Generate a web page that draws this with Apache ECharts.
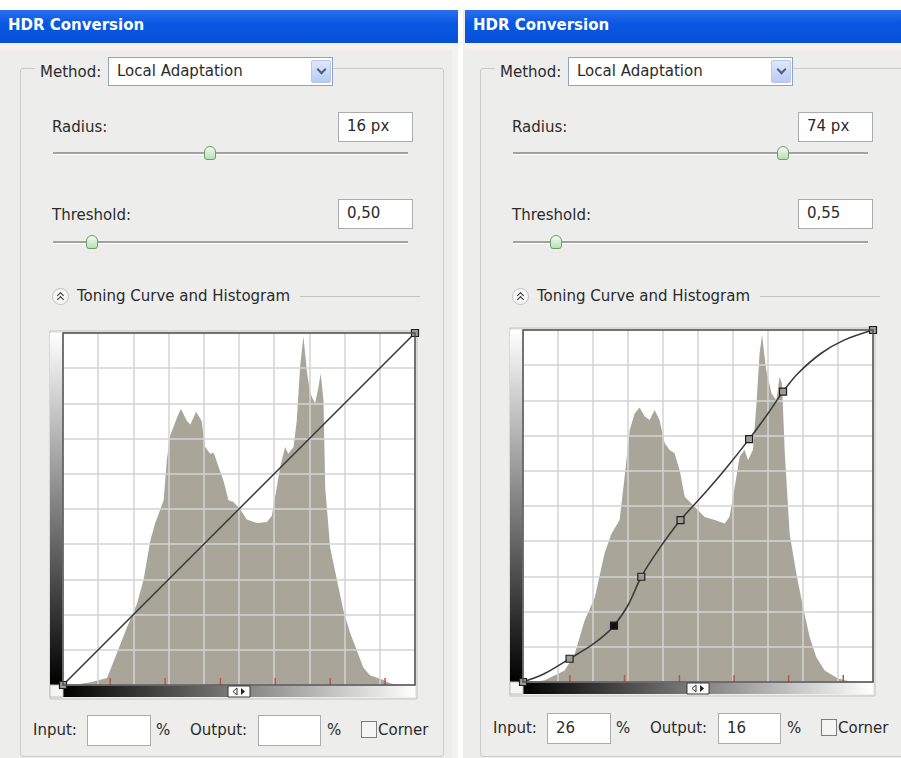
<!DOCTYPE html>
<html>
<head>
<meta charset="utf-8">
<script src="https://cdn.jsdelivr.net/npm/echarts@6/dist/echarts.min.js"></script>
<style>
  body { margin: 0; width: 901px; height: 758px; background: #fff; position: relative; overflow: hidden;
         font-family: "DejaVu Sans", sans-serif; font-size: 15px; color: #2b2b2b; }
  .abs { position: absolute; }
  .win { position: absolute; top: 10px; height: 748px; background: #ededeb; }
  .title { position: absolute; top: 10px; height: 33px; line-height: 31px; color: #fff; font-weight: bold;
           background: linear-gradient(#2b6ff0, #0a58e2 40%, #0650d8); padding-left: 8px; box-sizing: border-box; }
  .band { position: absolute; height: 7px; background: #f6f0f0; }
  .group { position: absolute; border: 1px solid #cbcbcb; border-radius: 3px; }
  .lbl { position: absolute; height: 20px; line-height: 20px; white-space: nowrap; background: #ededeb; }
  .box { position: absolute; background: #fff; border: 1px solid #a9adb1; box-sizing: border-box;
         padding-left: 8px; line-height: 27px; }
  .drop { position: absolute; background: #fff; border: 1px solid #8fa4c4; box-sizing: border-box;
          padding-left: 8px; line-height: 26px; }
  .arrow { position: absolute; width: 20px; height: 23px; border: 1px solid #b7c7ee; border-radius: 2px;
           background: linear-gradient(#dfe7fb, #b9cbf3); box-sizing: border-box; }
  .arrow:after { content: ""; position: absolute; left: 6px; top: 5px; width: 5px; height: 5px;
                 border-right: 2px solid #4a5f8c; border-bottom: 2px solid #4a5f8c; transform: rotate(45deg); }
  .track { position: absolute; height: 2px; background: #a2a2a2; border-bottom: 1px solid #fff; }
  .thumb { position: absolute; width: 12px; height: 14px; border: 1px solid #6d9d6d; border-radius: 6px 6px 3px 3px;
           background: linear-gradient(#f2fbf2, #b7e0b7); box-sizing: border-box; }
  .sep { position: absolute; height: 1px; background: #c4c4c4; }
  .icon { position: absolute; width: 17px; height: 17px; border-radius: 50%; border: 1px solid #c2c2c2;
          background: #f6f6f6; box-sizing: border-box; }
  .icon:before, .icon:after { content: ""; position: absolute; left: 5px; width: 4px; height: 4px;
          border-left: 1.5px solid #333; border-top: 1.5px solid #333; transform: rotate(45deg); }
  .icon:before { top: 4px; }
  .icon:after { top: 8px; }
  .check { position: absolute; width: 16px; height: 17px; border: 1px solid #7d7d7d; background: #f5f5f5; box-sizing: border-box; }
  .plot { position: absolute; width: 380px; height: 380px; }
</style>
</head>
<body>
<script>
// histogram outlines, [input %, height %]
const leftHistogram = [
  [0, 0], [3, 0], [7.8, 0.8], [12.5, 2], [15.3, 9], [18.2, 16.5], [21, 23], [22.9, 30], [24.8, 41],
  [26.2, 46], [28.6, 52.5], [29.5, 64], [30.5, 71], [32.4, 76], [33.5, 78.5], [35.2, 75], [36.2, 74],
  [37.8, 77.6], [39.4, 75], [40.4, 67.6], [41.8, 65.7], [42.8, 66], [44.2, 62], [45.6, 58], [47, 52.5],
  [48.4, 52], [50.3, 50], [52.2, 47], [55.1, 46], [57.9, 46.3], [59.3, 48], [60.7, 56], [61.7, 62],
  [63.1, 67.6], [64, 65.7], [65.5, 67.6], [66.4, 75], [67.4, 91], [68.3, 99], [69.3, 89], [70.2, 83],
  [71.6, 80], [72.6, 84.7], [73.2, 88.5], [74, 81], [74.5, 56], [75.9, 39], [77.8, 30], [79.7, 21],
  [81.6, 14.7], [83.4, 10], [85.3, 5], [87.2, 2.8], [91, 1.4], [92.9, 0.5], [95, 0], [100, 0]
];
const rightHistogram = [
  [0, 0], [3, 0], [6.2, 0.5], [11.9, 3.3], [14.8, 8], [17.6, 17.5], [20.5, 24], [23.3, 36.5], [25.2, 42],
  [27.6, 46], [29, 58], [30.5, 71.6], [31.9, 76.3], [33.3, 78], [34.8, 75.4], [36.2, 74.4], [37.6, 77.3],
  [39, 74.4], [40.5, 67.8], [41.9, 65.9], [43.3, 65], [44.8, 60], [46.2, 52.6], [48.1, 50.7], [50, 48.8],
  [51.9, 46.9], [54.8, 46], [57.6, 45], [59, 46.9], [60.5, 55.5], [61.9, 64], [63.3, 66], [64.3, 63],
  [65.7, 66], [66.7, 79], [67.6, 93.4], [68.3, 98.6], [69.5, 88.6], [71, 82], [72.4, 80], [73.3, 86.7],
  [74, 84.8], [74.8, 65], [76.2, 42], [78.1, 30.8], [80, 21.3], [81.9, 12.8], [83.8, 7], [86.2, 3.3],
  [90, 1], [92.9, 0.3], [95, 0], [100, 0]
];
// toning curve control points, [input %, output %]
const leftPoints = [[0, 0], [100, 100]];
const rightPoints = [[0, 0], [13.3, 6.6], [26, 16], [33.8, 29.9], [45, 46], [64.6, 69], [74.3, 82.5], [100, 100]];
const rightSelected = 2;
// traced toning curve path
const leftPath = [[0, 0], [100, 100]];
const rightPath = [
  [0, 0], [6.2, 2.4], [13.3, 6.6], [19.5, 10.4], [23.3, 13.3], [26, 16], [30, 21.8], [33.8, 29.9],
  [38.6, 37.4], [45, 46], [51.9, 53.6], [57.6, 60.2], [64.6, 69], [70, 76.3], [74.3, 82.5], [78.6, 87.7],
  [85.2, 93.4], [91.9, 97.2], [100, 100]
];
// red exposure stop marks along the bottom
const stopMarks = [13.4, 29.0, 44.7, 60.3, 75.9, 91.5];

const panels = [
  { dx: 0, radius: '16 px', threshold: '0,50', radiusThumb: 210, thresholdThumb: 92,
    input: '', output: '', plotTop: 325, plotW: 352, hist: leftHistogram,
    points: leftPoints, path: leftPath, sel: -1, rowDy: 0 },
  { dx: 460, radius: '74 px', threshold: '0,55', radiusThumb: 783, thresholdThumb: 556,
    input: '26', output: '16', plotTop: 322, plotW: 350, hist: rightHistogram,
    points: rightPoints, path: rightPath, sel: rightSelected, rowDy: -2 }
];

function add(cls, x, y, w, h, text, extra) {
  const d = document.createElement('div');
  d.className = cls;
  d.style.left = x + 'px';
  d.style.top = y + 'px';
  if (w != null) d.style.width = w + 'px';
  if (h != null) d.style.height = h + 'px';
  if (text != null) d.textContent = text;
  if (extra) Object.assign(d.style, extra);
  document.body.appendChild(d);
  return d;
}

// windows and title bars
add('win', 0, 10, 458, 748);
add('win', 463, 10, 438, 748);
add('abs', 452, 43, 6, 715, null, { background: '#f3f3f2' });
add('title', 0, 10, 458, 33, 'HDR Conversion');
add('title', 465, 10, 436, 33, 'HDR Conversion');
add('band', 0, 43, 458, null);
add('band', 465, 43, 436, null);

panels.forEach(function (p) {
  const dx = p.dx;
  add('group', 20 + dx, 68, 422, 687);
  add('lbl', 35 + dx, 62, 70, null, 'Method:', { paddingLeft: '5px' });
  add('drop', 108 + dx, 57, 225, 29, 'Local Adaptation');
  add('arrow', 311 + dx, 60, null, null);

  add('lbl', 52 + dx, 117, null, null, 'Radius:');
  add('box', 338 + dx, 112, 75, 30, p.radius);
  add('track', 53 + dx, 152, 355, null);
  add('thumb', p.radiusThumb - 6, 146, null, null);

  add('lbl', 52 + dx, 205, null, null, 'Threshold:');
  add('box', 338 + dx, 199, 75, 30, p.threshold);
  add('track', 53 + dx, 241, 355, null);
  add('thumb', p.thresholdThumb - 6, 235, null, null);

  add('icon', 52 + dx, 288, null, null);
  add('lbl', 77 + dx, 286, null, null, 'Toning Curve and Histogram');
  add('sep', 300 + dx, 296, 120, null);

  const ry = 720 + p.rowDy;
  add('lbl', 33 + dx, ry, null, null, 'Input:');
  add('box', 87 + dx, ry - 5, 64, 31, p.input, { lineHeight: '28px' });
  add('lbl', 156 + dx, ry, null, null, '%');
  add('lbl', 190 + dx, ry, null, null, 'Output:');
  add('box', 258 + dx, ry - 5, 63, 31, p.output, { lineHeight: '28px' });
  add('lbl', 327 + dx, ry, null, null, '%');
  add('check', 361 + dx, ry + 1, null, null);
  add('lbl', 378 + dx, ry, null, null, 'Corner', { background: 'transparent' });

  const div = add('plot', 45 + dx, p.plotTop, null, null);
  drawPlot(div, p);
});

function drawPlot(div, p) {
  const chart = echarts.init(div);
  const PW = p.plotW, PH = 352, L = 18, T = 8;
  const axis = {
    type: 'value', min: 0, max: 100, interval: 10, z: 3,
    axisLine: { show: false }, axisTick: { show: false }, axisLabel: { show: false },
    splitLine: { lineStyle: { color: '#d3d3d3', width: 1.5 } }
  };
  const pointData = p.points.map(function (c, i) {
    return { value: c, itemStyle: i === p.sel ? { color: '#111' } : undefined };
  });
  const cx = L + PW / 2;
  const option = {
    animation: false,
    grid: { left: L, top: T, width: PW, height: PH, show: true, backgroundColor: '#fff', borderWidth: 0 },
    xAxis: axis,
    yAxis: Object.assign({}, axis),
    series: [
      { type: 'line', data: p.hist, symbol: 'none', lineStyle: { width: 0 }, silent: true,
        areaStyle: { color: '#a9a699', opacity: 1 }, z: 2 },
      { type: 'line', data: p.path, smooth: 0.3, symbol: 'none',
        lineStyle: { color: '#3a3a3a', width: 1.6 }, z: 5 },
      { type: 'scatter', data: pointData, symbol: 'rect', symbolSize: 7,
        itemStyle: { color: '#9c9c94', borderColor: '#1e1e1e', borderWidth: 1.2, opacity: 1 }, z: 6 },
      { type: 'scatter', data: stopMarks.map(function (m) { return [m, 0]; }), symbol: 'rect',
        symbolSize: [1.5, 7], symbolOffset: [0, -3.5], itemStyle: { color: '#c4504a', opacity: 1 }, z: 6 }
    ],
    graphic: [
      { type: 'rect', shape: { x: 5, y: T - 2, width: L + PW - 3, height: PH + 16 },
        style: { fill: null, stroke: '#c3c3c3', lineWidth: 1 } },
      { type: 'rect', shape: { x: 5, y: T, width: 13, height: PH },
        style: { fill: new echarts.graphic.LinearGradient(0, 0, 0, 1, [{ offset: 0, color: '#fff' }, { offset: 1, color: '#000' }]) } },
      { type: 'rect', shape: { x: L, y: T + PH, width: PW, height: 12 },
        style: { fill: new echarts.graphic.LinearGradient(0, 0, 1, 0, [{ offset: 0, color: '#000' }, { offset: 1, color: '#fff' }]) } },
      { type: 'rect', shape: { x: 5, y: T + PH, width: 13, height: 12 }, style: { fill: '#f5f5f5', stroke: '#c0c0c0' } },
      { type: 'rect', shape: { x: L, y: T, width: PW, height: PH }, style: { fill: null, stroke: '#505050', lineWidth: 1.5 }, z: 100 },
      { type: 'rect', shape: { x: cx - 11, y: T + PH + 1, width: 22, height: 11 }, style: { fill: '#fafafa', stroke: '#3a3a3a' }, z: 100 },
      { type: 'polygon', shape: { points: [[cx - 2, T + PH + 3], [cx - 2, T + PH + 10], [cx - 6, T + PH + 6.5]] },
        style: { fill: '#fff', stroke: '#333' }, z: 101 },
      { type: 'polygon', shape: { points: [[cx + 2, T + PH + 3], [cx + 2, T + PH + 10], [cx + 6, T + PH + 6.5]] },
        style: { fill: '#222' }, z: 101 }
    ]
  };
  chart.setOption(option);
}
</script>
</body>
</html>
